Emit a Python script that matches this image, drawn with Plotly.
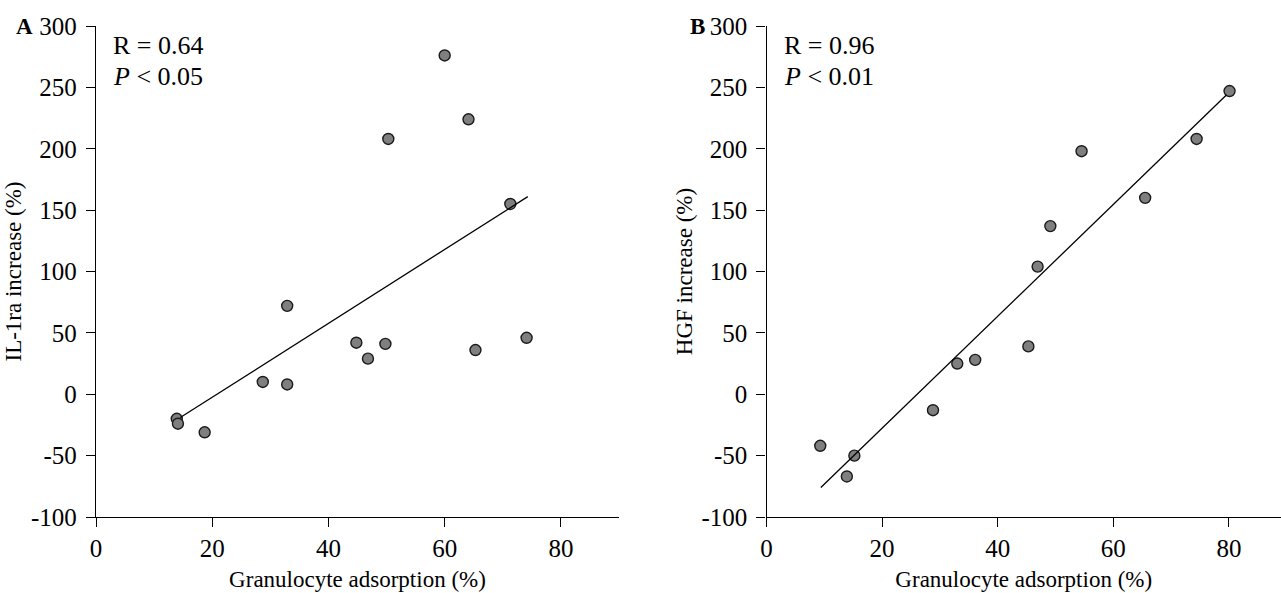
import plotly.graph_objects as go

# Panel A data (Granulocyte adsorption %, IL-1ra increase %)
a_x = [13.9, 14.1, 18.7, 28.7, 32.9, 32.9, 44.8, 46.8, 49.8, 50.3, 60.0, 64.1, 65.3, 71.3, 74.1]
a_y = [-20, -24, -31, 10, 8, 72, 42, 29, 41, 208, 276, 224, 36, 155, 46]
a_fit_x = [14.5, 74.3]
a_fit_y = [-19, 161]

# Panel B data (Granulocyte adsorption %, HGF increase %)
b_x = [9.3, 13.9, 15.2, 28.8, 33.0, 36.1, 45.3, 46.9, 49.1, 54.5, 65.5, 74.4, 80.1]
b_y = [-42, -67, -50, -13, 25, 28, 39, 104, 137, 198, 160, 208, 247]
b_fit_x = [9.4, 79.6]
b_fit_y = [-76, 244]

x_ticks = [0, 20, 40, 60, 80]
y_ticks = [-100, -50, 0, 50, 100, 150, 200, 250, 300]
y_tick_text = ["-100", "-50", "0", "50", "100", "150", "200", "250", "300"]

W, H = 1281, 593
FONT = "Liberation Serif"

fig = go.Figure()
marker = dict(size=11, color="#7f7f7f", line=dict(color="#1a1a1a", width=1.4))
fig.add_trace(go.Scatter(x=a_x, y=a_y, mode="markers", marker=marker, xaxis="x", yaxis="y", showlegend=False))
fig.add_trace(go.Scatter(x=a_fit_x, y=a_fit_y, mode="lines", line=dict(color="black", width=1.3), xaxis="x", yaxis="y", showlegend=False))
fig.add_trace(go.Scatter(x=b_x, y=b_y, mode="markers", marker=marker, xaxis="x2", yaxis="y2", showlegend=False))
fig.add_trace(go.Scatter(x=b_fit_x, y=b_fit_y, mode="lines", line=dict(color="black", width=1.3), xaxis="x2", yaxis="y2", showlegend=False))

ydom = [(H - 517) / H, (H - 26) / H]
common_x = dict(showgrid=False, zeroline=False, showline=True, linecolor="black", linewidth=1.3,
                ticks="outside", ticklen=9, tickwidth=1.3, tickcolor="black",
                tickvals=x_ticks, ticklabelstandoff=0,
                tickfont=dict(family=FONT, size=25, color="black"),
                title=dict(text="Granulocyte adsorption (%)", font=dict(family=FONT, size=23, color="black"), standoff=9))
common_y = dict(showgrid=False, zeroline=False, showline=True, linecolor="black", linewidth=1.3,
                ticks="outside", ticklen=9, tickwidth=1.3, tickcolor="black",
                tickvals=y_ticks, ticktext=y_tick_text, ticklabelstandoff=4,
                range=[-100, 300], domain=ydom,
                tickfont=dict(family=FONT, size=25, color="black"))

fig.update_layout(
    width=W, height=H,
    margin=dict(l=0, r=0, t=0, b=0, autoexpand=False),
    paper_bgcolor="white", plot_bgcolor="white",
    xaxis=dict(**common_x, domain=[96 / W, 619 / W], range=[0, 90], anchor="y"),
    yaxis=dict(**common_y, anchor="x",
               title=dict(text="IL-1ra increase (%)", font=dict(family=FONT, size=23, color="black"), standoff=2)),
    xaxis2=dict(**common_x, domain=[766.5 / W, 1.0], range=[0, 89], anchor="y2"),
    yaxis2=dict(**common_y, anchor="x2",
                title=dict(text="HGF increase (%)", font=dict(family=FONT, size=23, color="black"), standoff=2)),
)

def ann(text, x, y, size=26, xanchor="left"):
    fig.add_annotation(text=text, x=x / W, y=1 - y / H, xref="paper", yref="paper",
                       showarrow=False, xanchor=xanchor, yanchor="middle",
                       font=dict(family=FONT, size=size, color="black"))

ann("<b>A</b>", 24, 27, size=23, xanchor="center")
ann("<b>B</b>", 697, 27, size=23, xanchor="center")
ann("R = 0.64", 111, 45)
ann("<i>P</i> < 0.05", 111, 77)
ann("R = 0.96", 782, 45)
ann("<i>P</i> < 0.01", 782, 77)

fig.write_html("out.html")
